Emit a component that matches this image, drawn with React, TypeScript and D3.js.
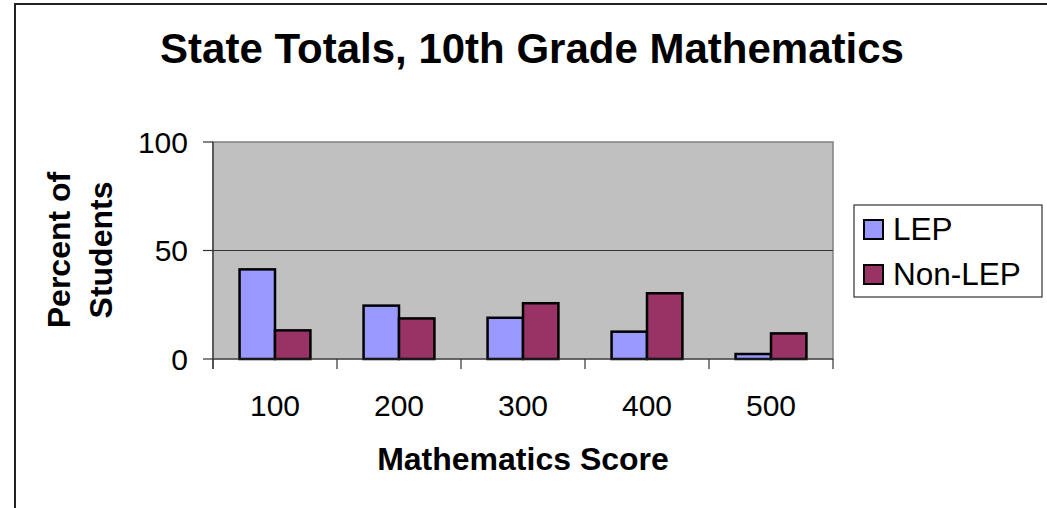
import * as d3 from 'd3'

const categories = ['100', '200', '300', '400', '500']
const seriesNames = ['LEP', 'Non-LEP']
const lepValues = [41.3, 24.6, 19.0, 12.6, 2.3]
const nonLepValues = [13.2, 18.7, 25.7, 30.3, 11.8]
const yTicks = [0, 50, 100]
const colors = ['#9999FF', '#993366']

const font = '"Liberation Sans", Arial, sans-serif'

const plot = { left: 213, right: 833, top: 142, bottom: 359 }

const App = () => {
  const x0 = d3
    .scaleBand<string>()
    .domain(categories)
    .range([plot.left, plot.right])

  // Excel style: gap width 150% of a bar
  const barW = x0.bandwidth() / 3.5
  const x1 = d3
    .scaleBand<string>()
    .domain(seriesNames)
    .range([0, barW * 2])

  const y = d3.scaleLinear().domain([0, 100]).range([plot.bottom, plot.top])

  const series = [lepValues, nonLepValues]
  const boundaries = categories.map((c) => x0(c) as number).concat(plot.right)

  return (
    <svg
      width={1047}
      height={508}
      style={{ position: 'absolute', left: 0, top: 0 }}
      fontFamily={font}
    >
      <rect x={0} y={0} width={1047} height={508} fill="#fff" />
      {/* outer chart border, only top and left are in frame */}
      <rect x={15} y={4} width={1200} height={700} fill="none" stroke="#222" strokeWidth={2} />

      <text x={532} y={63} textAnchor="middle" fontSize={42} fontWeight="bold">
        State Totals, 10th Grade Mathematics
      </text>

      <rect
        x={plot.left}
        y={plot.top}
        width={plot.right - plot.left}
        height={plot.bottom - plot.top}
        fill="#C0C0C0"
        stroke="#808080"
        strokeWidth={1.5}
      />

      {yTicks.slice(1, -1).map((t) => (
        <line key={t} x1={plot.left} x2={plot.right} y1={y(t)} y2={y(t)} stroke="#333" strokeWidth={1.2} />
      ))}

      {series.map((vals, si) =>
        vals.map((v, i) => (
          <rect
            key={`${si}-${i}`}
            x={(x0(categories[i]) as number) + (x0.bandwidth() - barW * 2) / 2 + (x1(seriesNames[si]) as number)}
            y={y(v)}
            width={barW}
            height={y(0) - y(v)}
            fill={colors[si]}
            stroke="#000"
            strokeWidth={2.5}
          />
        )),
      )}

      {/* axes */}
      <line x1={plot.left} x2={plot.left} y1={plot.top} y2={plot.bottom + 10} stroke="#333" strokeWidth={1.2} />
      <line x1={plot.left} x2={plot.right} y1={plot.bottom} y2={plot.bottom} stroke="#333" strokeWidth={1.2} />
      {yTicks.map((t) => (
        <g key={t}>
          <line x1={plot.left - 10} x2={plot.left} y1={y(t)} y2={y(t)} stroke="#333" strokeWidth={1.2} />
          <text x={188} y={y(t)} dy="0.36em" textAnchor="end" fontSize={30}>
            {t}
          </text>
        </g>
      ))}
      {boundaries.map((bx, i) => (
        <line key={i} x1={bx} x2={bx} y1={plot.bottom} y2={plot.bottom + 10} stroke="#333" strokeWidth={1.2} />
      ))}
      {categories.map((c) => (
        <text key={c} x={(x0(c) as number) + x0.bandwidth() / 2} y={416} textAnchor="middle" fontSize={30}>
          {c}
        </text>
      ))}

      <text x={(plot.left + plot.right) / 2} y={470} textAnchor="middle" fontSize={32} fontWeight="bold">
        Mathematics Score
      </text>
      <g fontSize={32} fontWeight="bold" textAnchor="middle">
        <text transform="translate(70,250) rotate(-90)">Percent of</text>
        <text transform="translate(112,250) rotate(-90)">Students</text>
      </g>

      {/* legend */}
      <rect x={854} y={205} width={188} height={92} fill="#fff" stroke="#333" strokeWidth={1.2} />
      {seriesNames.map((s, i) => (
        <g key={s} transform={`translate(864, ${220 + i * 45})`}>
          <rect x={0} y={0} width={19} height={19} fill={colors[i]} stroke="#000" strokeWidth={2} />
          <text x={29} y={19.5} fontSize={31.5}>
            {s}
          </text>
        </g>
      ))}
    </svg>
  )
}

export default App
